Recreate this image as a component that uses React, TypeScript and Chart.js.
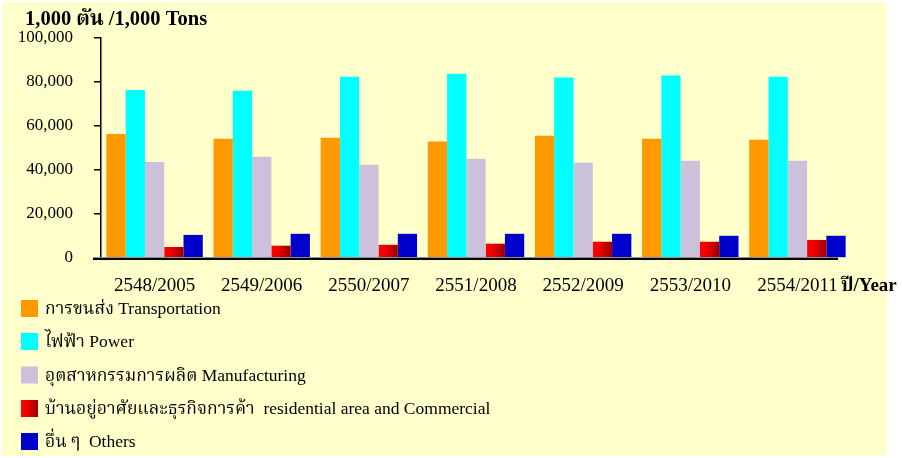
import React, { useEffect, useRef } from "react";
import { Chart, registerables } from "chart.js";

Chart.register(...registerables);

const categories = ["2548/2005", "2549/2006", "2550/2007", "2551/2008", "2552/2009", "2553/2010", "2554/2011"];
const transportation = [56400, 54200, 54700, 52900, 55600, 54200, 53800];
const power = [76400, 76000, 82400, 83800, 82000, 82900, 82400];
const manufacturing = [43600, 46000, 42400, 45100, 43300, 44200, 44200];
const residential = [5000, 5600, 6000, 6500, 7400, 7400, 8200];
const others = [10500, 11000, 11000, 11000, 11000, 10100, 10100];
const seriesLabels = [
  "การขนส่ง Transportation",
  "ไฟฟ้า Power",
  "อุตสาหกรรมการผลิต Manufacturing",
  "บ้านอยู่อาศัยและธุรกิจการค้า  residential area and Commercial",
  "อื่น ๆ  Others",
];
const yTicks = [0, 20000, 40000, 60000, 80000, 100000];
const titleText = "1,000 ตัน /1,000 Tons";
const xTitleText = "ปี/Year";

const COLORS = ["#FF9900", "#00FFFF", "#CCC1DA", "#FF0000", "#0000CC"];
const SERIF = "'Liberation Serif', 'Times New Roman', 'Noto Serif Thai', 'Noto Sans Thai', serif";

function redGradient(ctx: CanvasRenderingContext2D, x0: number, x1: number) {
  const g = ctx.createLinearGradient(x0, 0, x1, 0);
  g.addColorStop(0, "#FF0000");
  g.addColorStop(0.35, "#EE0000");
  g.addColorStop(1, "#990000");
  return g;
}

const decorPlugin = {
  id: "decor",
  beforeDraw(chart: any) {
    const ctx = chart.ctx;
    ctx.save();
    ctx.fillStyle = "#FFFFFF";
    ctx.fillRect(0, 0, chart.width, chart.height);
    ctx.fillStyle = "#FFFFCC";
    ctx.fillRect(2, 2, 885, 454);
    ctx.restore();
  },
  beforeDatasetDraw(chart: any, args: any) {
    if (args.index !== 3) return;
    const meta = chart.getDatasetMeta(3);
    const ctx = chart.ctx;
    meta.data.forEach((el: any) => {
      const x0 = el.x - el.width / 2;
      const x1 = el.x + el.width / 2;
      el.options = Object.assign({}, el.options, { backgroundColor: redGradient(ctx, x0, x1) });
    });
  },
  afterDatasetsDraw(chart: any) {
    const ctx = chart.ctx;
    const area = chart.chartArea;
    ctx.save();
    ctx.fillStyle = "#8C8C8C";
    ctx.fillRect(area.left - 8, area.bottom - 1, area.right - 13 - (area.left - 8), 1);
    ctx.fillStyle = "#000000";
    ctx.fillRect(area.left - 8, area.bottom, area.right - 13 - (area.left - 8), 2);
    ctx.restore();
  },
  afterDraw(chart: any) {
    const ctx = chart.ctx;
    ctx.save();
    ctx.fillStyle = "#000000";
    ctx.textBaseline = "middle";
    ctx.textAlign = "left";
    ctx.font = `bold 20.5px ${SERIF}`;
    ctx.fillText(titleText, 25, 20);
    ctx.font = `bold 19px ${SERIF}`;
    ctx.fillText(xTitleText, 841, 286);
    // legend
    const rows = [308.5, 341.5, 375, 408.5, 441.5];
    ctx.font = `17.5px ${SERIF}`;
    rows.forEach((cy, i) => {
      const x0 = 21;
      const size = 17;
      ctx.fillStyle = i === 3 ? redGradient(ctx, x0, x0 + size) : COLORS[i];
      ctx.fillRect(x0, cy - size / 2, size, size);
      ctx.fillStyle = "#000000";
      ctx.fillText(seriesLabels[i], 45, cy + 1);
    });
    ctx.restore();
  },
};

export default function App() {
  const canvasRef = useRef<HTMLCanvasElement | null>(null);

  useEffect(() => {
    document.body.style.margin = "0";
    const canvas = canvasRef.current;
    if (!canvas) return;
    const seriesData = [transportation, power, manufacturing, residential, others];
    const chart = new Chart(canvas, {
      type: "bar",
      data: {
        labels: categories,
        datasets: seriesData.map((d, i) => ({
          label: seriesLabels[i],
          data: d,
          backgroundColor: COLORS[i],
          borderWidth: 0,
          categoryPercentage: 0.9,
          barPercentage: 1.0,
        })),
      },
      options: {
        responsive: false,
        animation: false,
        maintainAspectRatio: false,
        devicePixelRatio: 1,
        layout: { padding: { top: 38, right: 51, left: 0, bottom: 0 } },
        plugins: {
          legend: { display: false },
          title: { display: false },
          tooltip: { enabled: false },
        },
        scales: {
          x: {
            grid: { display: false, drawTicks: false },
            border: { display: false },
            ticks: {
              color: "#000000",
              font: { family: SERIF, size: 19 },
              padding: 17,
              maxRotation: 0,
              autoSkip: false,
            },
            afterFit(scale: any) {
              scale.height = 200;
            },
          },
          y: {
            min: 0,
            max: 100000,
            afterBuildTicks(scale: any) {
              scale.ticks = yTicks.map((v) => ({ value: v }));
            },
            grid: {
              display: true,
              drawOnChartArea: false,
              drawTicks: true,
              tickLength: 7,
              color: "#000000",
              lineWidth: 1.5,
            },
            border: { display: true, color: "#000000", width: 1.5 },
            ticks: {
              color: "#000000",
              font: { family: SERIF, size: 17 },
              padding: 21,
              callback: (v: any) => Number(v).toLocaleString("en-US"),
            },
            afterFit(scale: any) {
              scale.width = 101;
            },
          },
        },
      },
      plugins: [decorPlugin],
    });
    return () => chart.destroy();
  }, []);

  return (
    <div style={{ position: "fixed", left: 0, top: 0, width: 902, height: 458 }}>
      <canvas ref={canvasRef} width={902} height={458} style={{ width: 902, height: 458, display: "block" }} />
    </div>
  );
}
